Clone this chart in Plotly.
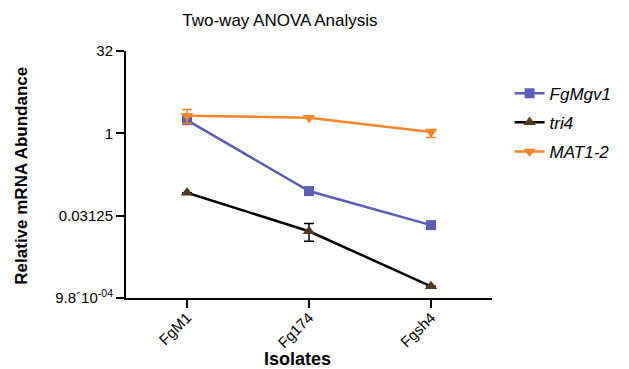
import plotly.graph_objects as go

isolates = ["FgM1", "Fg174", "Fgsh4"]
fgmgv1 = [1.74, 0.088, 0.021]
tri4 = [0.082, 0.0162, 0.0016]
tri4_err_plus = [0, 0.0062, 0]
tri4_err_minus = [0, 0.0055, 0]
mat12 = [2.1, 1.93, 1.06]
mat12_err_plus = [0.63, 0, 0.12]
mat12_err_minus = [0.58, 0, 0.22]
ytick_vals = [2**-10, 2**-5, 1, 32]
ytick_text = ["9.8´10<sup>-04</sup>", "0.03125", "1", "32"]

blue = "#5B5EB4"
brown = "#4D3A1E"
orange = "#F7862A"

fig = go.Figure()
fig.add_trace(go.Scatter(
    x=isolates, y=fgmgv1, name="<i>FgMgv1</i>", mode="lines+markers",
    line=dict(color=blue, width=2.5),
    marker=dict(symbol="square", size=10, color=blue),
    legendgroup="a"))
fig.add_trace(go.Scatter(
    x=isolates, y=tri4, name="<i>tri4</i>", mode="lines+markers",
    line=dict(color="black", width=2.5),
    marker=dict(symbol="triangle-up", size=11, color=brown),
    error_y=dict(type="data", array=tri4_err_plus, arrayminus=tri4_err_minus,
                 color="black", thickness=1.5, width=5),
    legendgroup="b"))
fig.add_trace(go.Scatter(
    x=isolates, y=mat12, name="<i>MAT1-2</i>", mode="lines+markers",
    line=dict(color=orange, width=2.5),
    marker=dict(symbol="triangle-down", size=11, color=orange),
    error_y=dict(type="data", array=mat12_err_plus, arrayminus=mat12_err_minus,
                 color=orange, thickness=1.5, width=5),
    legendgroup="c"))

fig.update_layout(
    width=629, height=369,
    margin=dict(l=126, r=131, t=51, b=71),
    paper_bgcolor="white", plot_bgcolor="white",
    font=dict(family="Liberation Sans, Arial, sans-serif", color="black", size=15),
    title=dict(text="Two-way ANOVA Analysis", x=0.445, xanchor="center",
               y=0.946, yanchor="middle", font=dict(size=17)),
    legend=dict(x=1.048, y=0.90, xanchor="left", yanchor="top",
                font=dict(size=17), tracegroupgap=4, traceorder="grouped",
                bgcolor="rgba(0,0,0,0)"),
    xaxis=dict(
        type="category", range=[-0.5, 2.5], showline=True, linecolor="black",
        linewidth=2, ticks="outside", ticklen=8, tickwidth=2, tickcolor="black",
        tickangle=-45, showgrid=False, zeroline=False, automargin=False,
        ticklabelstandoff=-5, tickfont=dict(size=15)),
    yaxis=dict(
        type="log", range=[-3.0103, 1.50515], showline=True, linecolor="black",
        linewidth=2, ticks="outside", ticklen=8, tickwidth=2, tickcolor="black",
        tickvals=ytick_vals, ticktext=ytick_text, showgrid=False, zeroline=False,
        automargin=False, tickfont=dict(size=15)),
    annotations=[
        dict(text="<b>Isolates</b>", xref="paper", yref="paper",
             x=0.468, y=-0.245, xanchor="center", yanchor="middle",
             showarrow=False, font=dict(size=18)),
        dict(text="<b>Relative mRNA Abundance</b>", xref="paper", yref="paper",
             x=-0.285, y=0.494, xanchor="center", yanchor="middle",
             textangle=-90, showarrow=False, font=dict(size=17)),
    ],
)

fig.write_html("out.html", config={"displayModeBar": False},
               post_script="document.body.style.margin='0';document.body.style.overflow='hidden';")
